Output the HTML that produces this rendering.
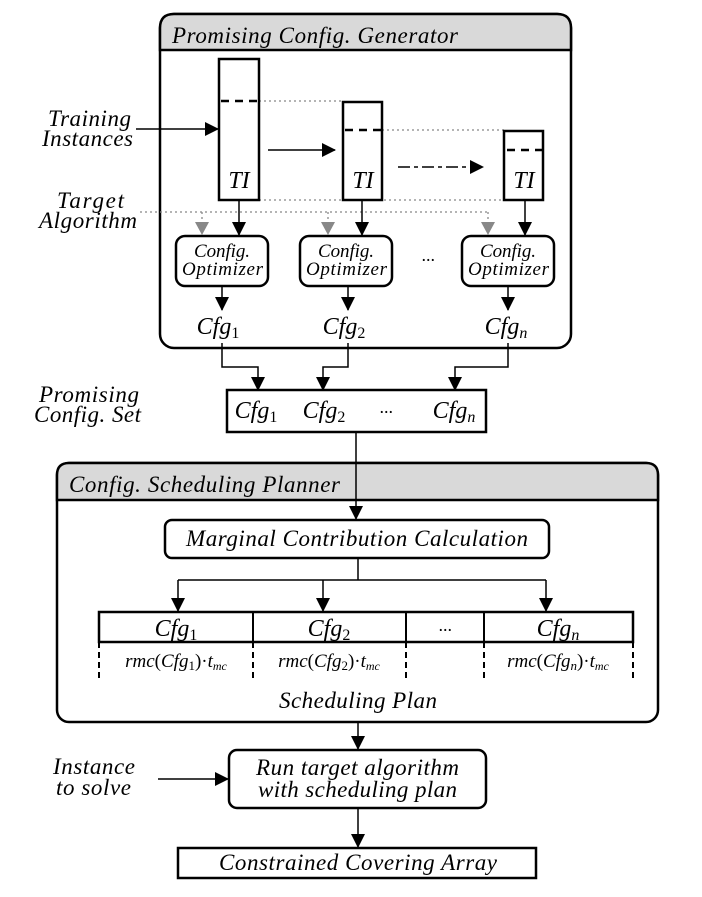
<!DOCTYPE html>
<html><head><meta charset="utf-8"><style>
body{margin:0;background:#fff}
svg text{font-family:"Liberation Serif",serif;font-style:italic;fill:#000}
</style></head><body>
<svg width="702" height="892" viewBox="0 0 702 892" xmlns="http://www.w3.org/2000/svg">
<defs>
<marker id="ab" markerWidth="14" markerHeight="14" refX="13" refY="7" orient="auto" markerUnits="userSpaceOnUse"><path d="M0,0 L14,7 L0,14 z" fill="#000"/></marker>
</defs>
<rect x="160" y="14" width="411" height="334" rx="14" fill="#fff" stroke="#000" stroke-width="2.5"/>
<path d="M160,50 V28 Q160,14 174,14 H557 Q571,14 571,28 V50 Z" fill="#d9d9d9" stroke="#000" stroke-width="2.5"/>
<text x="172" y="43" font-size="23" textLength="286" lengthAdjust="spacing">Promising Config. Generator</text>
<g stroke="#888" stroke-width="1.3" stroke-dasharray="2,3" fill="none">
<line x1="259" y1="101" x2="343" y2="101"/>
<line x1="382" y1="130" x2="504" y2="130"/>
<line x1="259" y1="200" x2="504" y2="200"/>
<line x1="140" y1="212" x2="488" y2="212"/>
<line x1="202" y1="212" x2="202" y2="222"/>
<line x1="328" y1="212" x2="328" y2="222"/>
<line x1="488" y1="212" x2="488" y2="222"/>
</g>
<g fill="#888"><path d="M195,222 h14 l-7,13 z"/><path d="M321,222 h14 l-7,13 z"/><path d="M481,222 h14 l-7,13 z"/></g>
<g fill="#fff" stroke="#000" stroke-width="2.5">
<rect x="219" y="59" width="40" height="141"/>
<rect x="343" y="102" width="39" height="98"/>
<rect x="504" y="131" width="39" height="69"/>
</g>
<g stroke="#000" stroke-width="2.5" stroke-dasharray="8,6">
<line x1="221" y1="101" x2="258" y2="101"/>
<line x1="345" y1="130" x2="381" y2="130"/>
<line x1="507" y1="150" x2="542" y2="150"/>
</g>
<text x="239" y="188" font-size="24" text-anchor="middle">TI</text>
<text x="363" y="188" font-size="24" text-anchor="middle">TI</text>
<text x="524" y="188" font-size="24" text-anchor="middle">TI</text>
<g stroke="#000" stroke-width="1.5" fill="none">
<line x1="136" y1="129" x2="218" y2="129" marker-end="url(#ab)"/>
<line x1="268" y1="150" x2="335" y2="150" marker-end="url(#ab)"/>
<line x1="398" y1="167" x2="483" y2="167" stroke-dasharray="12,4,4,4" marker-end="url(#ab)"/>
<line x1="239" y1="200" x2="239" y2="235" marker-end="url(#ab)"/>
<line x1="362" y1="200" x2="362" y2="235" marker-end="url(#ab)"/>
<line x1="525" y1="200" x2="525" y2="235" marker-end="url(#ab)"/>
<line x1="222" y1="286" x2="222" y2="310" marker-end="url(#ab)"/>
<line x1="348" y1="286" x2="348" y2="310" marker-end="url(#ab)"/>
<line x1="508" y1="286" x2="508" y2="310" marker-end="url(#ab)"/>
<polyline points="222,343 222,367 258,367 258,390" marker-end="url(#ab)"/>
<polyline points="348,343 348,367 323,367 323,390" marker-end="url(#ab)"/>
<polyline points="508,343 508,367 455,367 455,390" marker-end="url(#ab)"/>
</g>
<g font-size="23">
<text x="48" y="126" textLength="83" lengthAdjust="spacing">Training</text>
<text x="42" y="146" textLength="91" lengthAdjust="spacing">Instances</text>
<text x="57" y="208" textLength="67" lengthAdjust="spacing">Target</text>
<text x="39" y="228" textLength="98" lengthAdjust="spacing">Algorithm</text>
</g>
<g fill="#fff" stroke="#000" stroke-width="2.5">
<rect x="176" y="236" width="92" height="50" rx="9"/>
<rect x="300" y="236" width="92" height="50" rx="9"/>
<rect x="462" y="236" width="92" height="50" rx="9"/>
</g>
<g font-size="19">
<text x="194" y="257" textLength="56" lengthAdjust="spacing">Config.</text><text x="182" y="275" textLength="81" lengthAdjust="spacing">Optimizer</text>
<text x="318" y="257" textLength="56" lengthAdjust="spacing">Config.</text><text x="306" y="275" textLength="81" lengthAdjust="spacing">Optimizer</text>
<text x="480" y="257" textLength="56" lengthAdjust="spacing">Config.</text><text x="468" y="275" textLength="81" lengthAdjust="spacing">Optimizer</text>
</g>
<text x="428" y="266" font-size="18" text-anchor="middle">···</text>
<g font-size="24" text-anchor="middle">
<text x="218" y="334">Cfg<tspan font-size="16" font-style="normal" dy="4">1</tspan></text>
<text x="344" y="334">Cfg<tspan font-size="16" font-style="normal" dy="4">2</tspan></text>
<text x="506" y="334">Cfg<tspan font-size="16" dy="4">n</tspan></text>
</g>
<text x="39" y="402" font-size="23" textLength="100" lengthAdjust="spacing">Promising</text>
<text x="34" y="422" font-size="23" textLength="107" lengthAdjust="spacing">Config. Set</text>
<rect x="227" y="390" width="259" height="42" fill="#fff" stroke="#000" stroke-width="2.5"/>
<g font-size="24" text-anchor="middle">
<text x="256" y="418">Cfg<tspan font-size="16" font-style="normal" dy="4">1</tspan></text>
<text x="324" y="418">Cfg<tspan font-size="16" font-style="normal" dy="4">2</tspan></text>
<text x="454" y="418">Cfg<tspan font-size="16" dy="4">n</tspan></text>
</g>
<text x="386" y="418" font-size="18" text-anchor="middle">···</text>
<rect x="57" y="463" width="601" height="259" rx="12" fill="#fff" stroke="#000" stroke-width="2.5"/>
<path d="M57,500 V475 Q57,463 69,463 H646 Q658,463 658,475 V500 Z" fill="#d9d9d9" stroke="#000" stroke-width="2.5"/>
<text x="69" y="492" font-size="23" textLength="271" lengthAdjust="spacing">Config. Scheduling Planner</text>
<g stroke="#000" stroke-width="1.5" fill="none">
<line x1="356" y1="432" x2="356" y2="519" marker-end="url(#ab)"/>
<polyline points="358,558 358,580"/>
<line x1="178" y1="580" x2="546" y2="580"/>
<line x1="178" y1="580" x2="178" y2="611" marker-end="url(#ab)"/>
<line x1="323" y1="580" x2="323" y2="611" marker-end="url(#ab)"/>
<line x1="546" y1="580" x2="546" y2="611" marker-end="url(#ab)"/>
<line x1="358" y1="722" x2="358" y2="749" marker-end="url(#ab)"/>
<line x1="158" y1="779" x2="228" y2="779" marker-end="url(#ab)"/>
<line x1="358" y1="808" x2="358" y2="847" marker-end="url(#ab)"/>
</g>
<rect x="165" y="520" width="384" height="38" rx="7" fill="#fff" stroke="#000" stroke-width="2.5"/>
<text x="186" y="546" font-size="23" textLength="342" lengthAdjust="spacing">Marginal Contribution Calculation</text>
<rect x="99" y="612" width="534" height="30" fill="#fff" stroke="#000" stroke-width="2.5"/>
<g stroke="#000" stroke-width="2"><line x1="253" y1="612" x2="253" y2="642"/><line x1="406" y1="612" x2="406" y2="642"/><line x1="484" y1="612" x2="484" y2="642"/></g>
<g stroke="#000" stroke-width="2" stroke-dasharray="6,4"><line x1="99" y1="642" x2="99" y2="682"/><line x1="253" y1="642" x2="253" y2="682"/><line x1="406" y1="642" x2="406" y2="682"/><line x1="484" y1="642" x2="484" y2="682"/><line x1="633" y1="642" x2="633" y2="682"/></g>
<g font-size="24" text-anchor="middle">
<text x="176" y="636">Cfg<tspan font-size="16" font-style="normal" dy="4">1</tspan></text>
<text x="329" y="636">Cfg<tspan font-size="16" font-style="normal" dy="4">2</tspan></text>
<text x="558" y="636">Cfg<tspan font-size="16" dy="4">n</tspan></text>
</g>
<text x="445" y="636" font-size="18" text-anchor="middle">···</text>
<g font-size="19" text-anchor="middle">
<text x="176" y="667">rmc<tspan font-style="normal">(</tspan>Cfg<tspan font-size="13" font-style="normal" dy="3">1</tspan><tspan font-style="normal" dy="-3">)·</tspan>t<tspan font-size="12" dy="3">mc</tspan></text>
<text x="329" y="667">rmc<tspan font-style="normal">(</tspan>Cfg<tspan font-size="13" font-style="normal" dy="3">2</tspan><tspan font-style="normal" dy="-3">)·</tspan>t<tspan font-size="12" dy="3">mc</tspan></text>
<text x="558" y="667">rmc<tspan font-style="normal">(</tspan>Cfg<tspan font-size="13" dy="3">n</tspan><tspan font-style="normal" dy="-3">)·</tspan>t<tspan font-size="12" dy="3">mc</tspan></text>
</g>
<text x="279" y="708" font-size="23" textLength="158" lengthAdjust="spacing">Scheduling Plan</text>
<text x="53" y="774" font-size="23" textLength="82" lengthAdjust="spacing">Instance</text>
<text x="56" y="795" font-size="23" textLength="75" lengthAdjust="spacing">to solve</text>
<rect x="229" y="750" width="257" height="58" rx="8" fill="#fff" stroke="#000" stroke-width="2.5"/>
<text x="256" y="775" font-size="23" textLength="203" lengthAdjust="spacing">Run target algorithm</text>
<text x="258" y="797" font-size="23" textLength="199" lengthAdjust="spacing">with scheduling plan</text>
<rect x="178" y="848" width="358" height="30" fill="#fff" stroke="#000" stroke-width="2.5"/>
<text x="219" y="870" font-size="23" textLength="278" lengthAdjust="spacing">Constrained Covering Array</text>
</svg>
</body></html>
